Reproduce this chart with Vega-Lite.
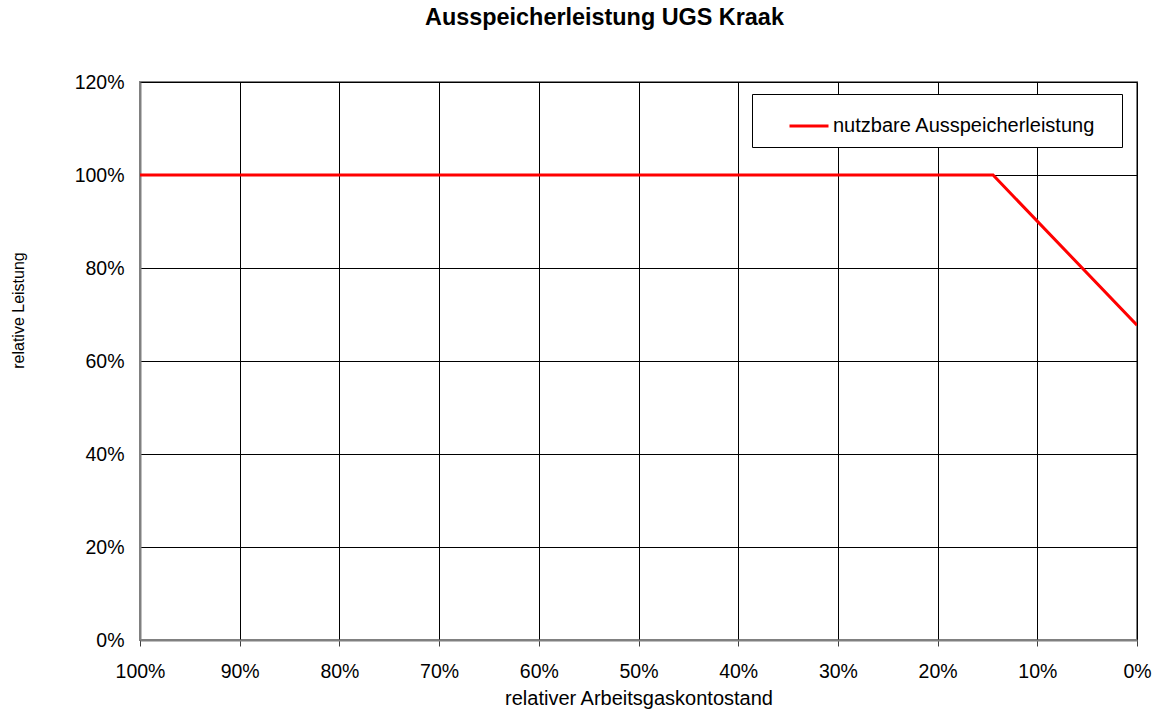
{
  "$schema": "https://vega.github.io/schema/vega-lite/v6.json",
  "width": 997,
  "height": 558,
  "autosize": {"type": "none"},
  "padding": {"left": 140, "top": 82, "right": 18, "bottom": 73},
  "background": "white",
  "title": {
    "text": "Ausspeicherleistung UGS Kraak",
    "font": "Liberation Sans",
    "fontSize": 23.4,
    "fontWeight": "bold",
    "color": "black",
    "anchor": "middle",
    "baseline": "alphabetic",
    "offset": 24,
    "dx": -34
  },
  "config": {
    "view": {"stroke": "#808080", "strokeWidth": 2},
    "font": "Liberation Sans"
  },
  "data": {
    "values": [
      {"Arbeitsgas": 100, "Leistung": 100, "Serie": "nutzbare Ausspeicherleistung"},
      {"Arbeitsgas": 14.44, "Leistung": 100, "Serie": "nutzbare Ausspeicherleistung"},
      {"Arbeitsgas": 0, "Leistung": 67.7, "Serie": "nutzbare Ausspeicherleistung"}
    ]
  },
  "mark": {"type": "line", "strokeWidth": 3, "clip": true},
  "encoding": {
    "x": {
      "field": "Arbeitsgas",
      "type": "quantitative",
      "scale": {"domain": [0, 100], "reverse": true, "nice": false, "zero": false},
      "axis": {
        "values": [0, 10, 20, 30, 40, 50, 60, 70, 80, 90, 100],
        "labelExpr": "datum.value + '%'",
        "labelFlush": false,
        "labelOverlap": false,
        "title": "relativer Arbeitsgaskontostand",
        "titleFont": "Liberation Sans",
        "titleFontSize": 20,
        "titleFontWeight": "normal",
        "titleColor": "black",
        "titlePadding": 8,
        "labelFont": "Liberation Sans",
        "labelFontSize": 19.5,
        "labelColor": "black",
        "labelPadding": 16,
        "ticks": true,
        "tickSize": 6,
        "tickColor": "#404040",
        "domainColor": "#808080",
        "domainWidth": 2,
        "grid": true,
        "gridColor": "black",
        "gridWidth": 1,
        "gridOpacity": 1
      }
    },
    "y": {
      "field": "Leistung",
      "type": "quantitative",
      "scale": {"domain": [0, 120], "nice": false},
      "axis": {
        "values": [0, 20, 40, 60, 80, 100, 120],
        "labelExpr": "datum.value + '%'",
        "labelFlush": false,
        "title": "relative Leistung",
        "titleFont": "Liberation Sans",
        "titleFontSize": 16,
        "titleFontWeight": "normal",
        "titleColor": "black",
        "titlePadding": 48,
        "titleY": 228,
        "labelFont": "Liberation Sans",
        "labelFontSize": 19.5,
        "labelColor": "black",
        "labelPadding": 16,
        "ticks": false,
        "domainColor": "#808080",
        "domainWidth": 2,
        "grid": true,
        "gridColor": "black",
        "gridWidth": 1,
        "gridOpacity": 1
      }
    },
    "color": {
      "field": "Serie",
      "type": "nominal",
      "scale": {"range": ["#ff0000"]},
      "legend": {
        "title": null,
        "orient": "none",
        "legendX": 612,
        "legendY": 12,
        "strokeColor": "black",
        "fillColor": "white",
        "padding": 11,
        "symbolType": "stroke",
        "symbolSize": 1521,
        "symbolStrokeWidth": 3,
        "symbolOffset": 25,
        "labelOffset": 3,
        "labelFont": "Liberation Sans",
        "labelFontSize": 20,
        "labelColor": "black",
        "labelLimit": 400,
        "labelExpr": "datum.label + '\u2800'"
      }
    }
  }
}
